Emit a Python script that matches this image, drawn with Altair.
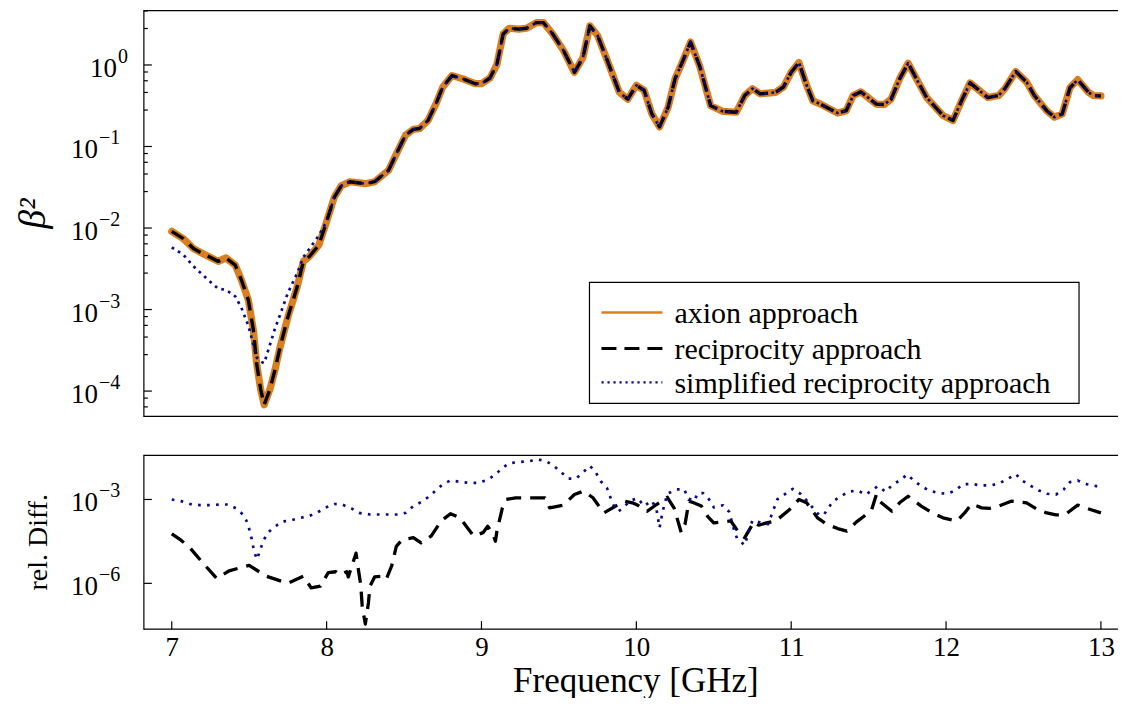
import altair as alt
import pandas as pd

FONT = "Liberation Serif"
ORANGE = "#da7f1f"
NAVY = "#0a0a8c"

# ---------------- top panel data (beta^2 vs frequency in GHz) ----------------
freq = [7.00, 7.075, 7.14, 7.215, 7.30, 7.35, 7.41, 7.45, 7.495, 7.527,
        7.548, 7.574, 7.597, 7.634, 7.666, 7.70, 7.75, 7.81, 7.85, 7.89,
        7.95, 8.00, 8.05, 8.095, 8.15, 8.25, 8.31, 8.365, 8.40, 8.45,
        8.51, 8.56, 8.60, 8.655, 8.71, 8.75, 8.81, 8.88, 8.96, 9.00,
        9.055, 9.10, 9.14, 9.18, 9.24, 9.29, 9.355, 9.40, 9.46, 9.53,
        9.60, 9.655, 9.70, 9.75, 9.81, 9.89, 9.945, 10.00, 10.05, 10.10,
        10.15, 10.205, 10.25, 10.30, 10.35, 10.41, 10.48, 10.56, 10.645, 10.70,
        10.75, 10.80, 10.90, 10.95, 11.00, 11.05, 11.10, 11.14, 11.19, 11.30,
        11.355, 11.40, 11.45, 11.55, 11.60, 11.645, 11.70, 11.755, 11.82, 11.875,
        11.98, 12.045, 12.10, 12.155, 12.20, 12.27, 12.34, 12.38, 12.45, 12.52,
        12.57, 12.65, 12.70, 12.75, 12.80, 12.85, 12.92, 12.95, 13.00]

axion = [9.1e-3, 7.4e-3, 5.6e-3, 4.7e-3, 3.9e-3, 4.3e-3, 3.5e-3, 2.3e-3, 1.3e-3, 5.6e-4,
         2.2e-4, 1.05e-4, 6.8e-5, 1.05e-4, 1.8e-4, 3.5e-4, 8.1e-4, 1.9e-3, 3.9e-3, 4.5e-3,
         6.2e-3, 1.2e-2, 2.4e-2, 3.3e-2, 3.7e-2, 3.5e-2, 3.7e-2, 4.5e-2, 5.1e-2, 8.1e-2,
         0.138, 0.162, 0.166, 0.209, 0.347, 0.537, 0.741, 0.676, 0.589, 0.589,
         0.692, 1.02, 2.40, 2.82, 2.75, 2.82, 3.31, 3.31, 2.40, 1.50,
         0.813, 1.23, 3.02, 2.29, 1.17, 0.462, 0.380, 0.562, 0.490, 0.251,
         0.174, 0.302, 0.676, 1.12, 1.91, 0.955, 0.316, 0.269, 0.263, 0.422,
         0.513, 0.442, 0.462, 0.537, 0.813, 1.07, 0.562, 0.363, 0.331, 0.257,
         0.275, 0.422, 0.468, 0.331, 0.327, 0.380, 0.676, 1.05, 0.617, 0.398,
         0.240, 0.209, 0.363, 0.603, 0.513, 0.398, 0.422, 0.513, 0.832, 0.617,
         0.422, 0.275, 0.229, 0.251, 0.525, 0.661, 0.462, 0.422, 0.417]

# reciprocity curve is indistinguishable from the axion curve at this scale
reciprocity = list(axion)

# simplified reciprocity curve: differs visibly only below 8 GHz
simplified_low = [5.8e-3, 4.7e-3, 3.4e-3, 2.5e-3, 1.8e-3, 1.75e-3, 1.45e-3, 1.05e-3, 6.3e-4, 3.7e-4,
                  2.6e-4, 2.3e-4, 2.2e-4, 3.7e-4, 5.8e-4, 8.7e-4, 1.6e-3, 2.8e-3, 4.4e-3, 5.6e-3,
                  8.1e-3]
simplified = simplified_low + axion[len(simplified_low):]

# ---------------- bottom panel data (relative difference) ----------------
rd_freq_recip = [7.00, 7.06, 7.12, 7.19, 7.29, 7.37, 7.50, 7.61, 7.75, 7.85,
                 7.90, 7.96, 8.01, 8.06, 8.085, 8.13, 8.14, 8.19, 8.20, 8.22,
                 8.23, 8.25, 8.27, 8.28, 8.31, 8.365, 8.385, 8.42, 8.45, 8.49,
                 8.56, 8.61, 8.675, 8.74, 8.80, 8.86, 8.95, 9.01, 9.04, 9.07,
                 9.09, 9.10, 9.135, 9.16, 9.22, 9.32, 9.41, 9.44, 9.53, 9.60,
                 9.66, 9.72, 9.79, 9.89, 9.92, 9.975, 10.01, 10.07, 10.13, 10.20,
                 10.245, 10.29, 10.315, 10.34, 10.37, 10.42, 10.46, 10.50, 10.61, 10.64,
                 10.67, 10.70, 10.76, 10.79, 10.84, 10.90, 10.99, 11.05, 11.10, 11.17,
                 11.23, 11.30, 11.36, 11.42, 11.47, 11.52, 11.55, 11.57, 11.65, 11.70,
                 11.755, 11.84, 11.90, 11.98, 12.07, 12.12, 12.165, 12.23, 12.28, 12.34,
                 12.42, 12.52, 12.59, 12.65, 12.71, 12.77, 12.85, 12.90, 13.00]
rd_recip = [5.9e-5, 3.5e-5, 1.8e-5, 6.3e-6, 1.5e-6, 2.8e-6, 4.4e-6, 1.8e-6, 1.0e-6, 1.8e-6,
            6.9e-7, 7.9e-7, 2.4e-6, 2.6e-6, 2.0e-6, 2.6e-6, 1.7e-6, 1.2e-5, 4.8e-6, 9.1e-7,
            1.5e-7, 3.5e-8, 2.0e-7, 7.9e-7, 1.7e-6, 1.8e-6, 1.4e-6, 4.2e-6, 2.1e-5, 3.7e-5,
            4.3e-5, 2.8e-5, 4.9e-5, 1.7e-4, 3.1e-4, 2.2e-4, 4.9e-5, 6.5e-5, 1.1e-4, 6.5e-5,
            3.2e-5, 7.4e-5, 5.0e-4, 1.0e-3, 1.15e-3, 1.15e-3, 1.15e-3, 5.0e-4, 6.3e-4, 1.5e-3,
            2.0e-3, 1.15e-3, 3.3e-4, 6.9e-4, 8.7e-4, 7.6e-4, 6.2e-4, 3.8e-4, 6.6e-4, 1.2e-3,
            4.8e-4, 6.5e-5, 1.35e-4, 8.7e-4, 7.6e-4, 5.8e-4, 2.5e-4, 1.45e-4, 1.7e-4, 9.8e-5,
            5.6e-5, 4.3e-5, 1.6e-4, 1.2e-4, 1.45e-4, 1.7e-4, 4.4e-4, 1.0e-3, 7.6e-4, 2.2e-4,
            1.3e-4, 9.1e-5, 7.4e-5, 1.55e-4, 2.5e-4, 4.4e-4, 1.5e-3, 8.7e-4, 3.8e-4, 7.6e-4,
            1.3e-3, 5.8e-4, 3.6e-4, 2.2e-4, 1.7e-4, 3.3e-4, 6.9e-4, 5.0e-4, 4.8e-4, 5.8e-4,
            8.7e-4, 7.6e-4, 4.4e-4, 3.3e-4, 2.8e-4, 2.9e-4, 6.3e-4, 5.0e-4, 3.3e-4]

rd_freq_simp = [7.00, 7.06, 7.13, 7.18, 7.25, 7.31, 7.365, 7.415, 7.46, 7.49,
                7.52, 7.53, 7.55, 7.57, 7.59, 7.62, 7.66, 7.71, 7.77, 7.83,
                7.88, 7.935, 7.99, 8.05, 8.10, 8.16, 8.21, 8.28, 8.34, 8.40,
                8.455, 8.51, 8.56, 8.61, 8.655, 8.70, 8.75, 8.80, 8.86, 8.925,
                8.98, 9.04, 9.09, 9.135, 9.18, 9.25, 9.30, 9.365, 9.42, 9.47,
                9.52, 9.56, 9.61, 9.66, 9.70, 9.735, 9.77, 9.81, 9.83, 9.85,
                9.885, 9.915, 9.96, 10.01, 10.05, 10.10, 10.13, 10.15, 10.17, 10.20,
                10.26, 10.31, 10.33, 10.37, 10.40, 10.43, 10.47, 10.50, 10.56, 10.60,
                10.63, 10.65, 10.70, 10.73, 10.75, 10.81, 10.85, 10.87, 10.91, 10.97,
                11.01, 11.06, 11.10, 11.14, 11.18, 11.21, 11.24, 11.27, 11.33, 11.37,
                11.43, 11.48, 11.52, 11.56, 11.61, 11.65, 11.70, 11.75, 11.79, 11.84,
                11.89, 11.95, 12.01, 12.06, 12.11, 12.17, 12.22, 12.29, 12.34, 12.40,
                12.45, 12.49, 12.55, 12.60, 12.65, 12.71, 12.76, 12.80, 12.85, 12.91,
                12.97, 13.00]
rd_simp = [1.0e-3, 8.7e-4, 6.6e-4, 6.3e-4, 6.3e-4, 6.6e-4, 6.6e-4, 4.8e-4, 2.9e-4, 1.45e-4,
           3.2e-5, 1.5e-5, 7.2e-6, 1.5e-5, 3.2e-5, 6.5e-5, 1.0e-4, 1.6e-4, 1.8e-4, 2.2e-4,
           2.5e-4, 3.3e-4, 5.0e-4, 6.9e-4, 6.6e-4, 4.8e-4, 3.3e-4, 2.9e-4, 2.9e-4, 2.9e-4,
           2.9e-4, 3.3e-4, 5.8e-4, 8.1e-4, 1.2e-3, 2.0e-3, 3.5e-3, 4.8e-3, 4.3e-3, 3.9e-3,
           3.9e-3, 5.1e-3, 7.8e-3, 1.35e-2, 2.0e-2, 2.2e-2, 2.3e-2, 2.7e-2, 2.3e-2, 1.55e-2,
           8.9e-3, 5.6e-3, 5.6e-3, 9.8e-3, 1.6e-2, 1.0e-2, 4.5e-3, 2.6e-3, 1.3e-3, 6.6e-4,
           3.8e-4, 5.0e-4, 9.1e-4, 1.1e-3, 5.8e-4, 9.1e-4, 4.4e-4, 9.8e-5, 3.8e-4, 1.6e-3,
           2.3e-3, 2.3e-3, 1.15e-3, 8.7e-4, 1.7e-3, 1.7e-3, 1.0e-3, 5.2e-4, 6.2e-4, 3.6e-4,
           8.5e-5, 4.1e-5, 2.3e-5, 8.5e-5, 1.8e-4, 1.45e-4, 1.3e-4, 2.5e-4, 1.0e-3, 1.7e-3,
           2.4e-3, 1.6e-3, 9.1e-4, 5.0e-4, 2.8e-4, 2.8e-4, 5.0e-4, 8.7e-4, 1.4e-3, 1.9e-3,
           2.1e-3, 1.5e-3, 2.1e-3, 3.0e-3, 1.9e-3, 3.2e-3, 4.8e-3, 7.8e-3, 4.8e-3, 3.0e-3,
           2.1e-3, 1.7e-3, 1.6e-3, 2.1e-3, 3.5e-3, 3.6e-3, 3.2e-3, 3.2e-3, 3.7e-3, 5.5e-3,
           8.1e-3, 4.8e-3, 3.0e-3, 2.1e-3, 1.6e-3, 1.5e-3, 2.3e-3, 4.2e-3, 4.8e-3, 3.5e-3,
           3.0e-3, 3.0e-3]

legend_labels = ["axion approach", "reciprocity approach", "simplified reciprocity approach"]

# ticks and tick labels
top_major = [1e-4, 1e-3, 1e-2, 1e-1, 1e0]
top_major_exp = ["\u22124", "\u22123", "\u22122", "\u22121", "0"]
top_minor = [6.4e-5, 8.2e-5,
             2.8e-4, 4.6e-4, 6.4e-4, 8.2e-4,
             2.8e-3, 4.6e-3, 6.4e-3, 8.2e-3,
             2.8e-2, 4.6e-2, 6.4e-2, 8.2e-2,
             2.8e-1, 4.6e-1, 6.4e-1, 8.2e-1,
             2.8, 4.6]
bot_major = [1e-3, 1e-6]
bot_major_exp = ["\u22123", "\u22126"]
x_ticks = [7, 8, 9, 10, 11, 12, 13]

# ---------------- layout ----------------
W = 975            # plot area; the frame has no right edge (it is cut off, as in the original)
H_TOP = 406
H_BOT = 174
PX_PER_GHZ = 155.0
X0 = 6.82

xs = alt.Scale(domain=[X0, X0 + W / PX_PER_GHZ], nice=False, zero=False)
ys_top = alt.Scale(type="log", domain=[4.9e-5, 4.63], nice=False)
ys_bot = alt.Scale(type="log", domain=[2.3e-8, 3.8e-2], nice=False)

one = pd.DataFrame({"a": [0]})

df_axion = pd.DataFrame({"f": freq, "v": axion})
df_recip = pd.DataFrame({"f": freq, "v": reciprocity})
df_simp = pd.DataFrame({"f": freq, "v": simplified})
df_rd_recip = pd.DataFrame({"f": rd_freq_recip, "v": rd_recip})
df_rd_simp = pd.DataFrame({"f": rd_freq_simp, "v": rd_simp})


def line(df, ys, xaxis, color, width, dash=None, cap="butt"):
    kw = dict(color=color, strokeWidth=width, clip=True, strokeJoin="round", strokeCap=cap)
    if dash:
        kw["strokeDash"] = dash
    return alt.Chart(df).mark_line(**kw).encode(
        x=alt.X("f:Q", scale=xs, axis=xaxis),
        y=alt.Y("v:Q", scale=ys, axis=None),
    )


def yticks(vals, ys, length):
    return alt.Chart(pd.DataFrame({"t": vals})).mark_rule(color="black", strokeWidth=1.2).encode(
        y=alt.Y("t:Q", scale=ys, axis=None), x=alt.value(0), x2=alt.value(length)
    )


def ylabels(vals, exps, ys):
    df = pd.DataFrame({"t": vals, "e": exps})
    layers = []
    for cond, x0 in (("length(datum.e) > 1", -46), ("length(datum.e) <= 1", -27)):
        base = alt.Chart(df).transform_filter(cond).mark_text(
            align="right", baseline="middle", fontSize=27, dy=4, color="black"
        ).encode(y=alt.Y("t:Q", scale=ys, axis=None), x=alt.value(x0), text=alt.value("10"))
        sup = alt.Chart(df).transform_filter(cond).mark_text(
            align="left", baseline="middle", fontSize=20, dy=-8, color="black"
        ).encode(y=alt.Y("t:Q", scale=ys, axis=None), x=alt.value(x0 + 1), text="e:N")
        layers += [base, sup]
    return layers


def frame(h):
    st = dict(color="black", strokeWidth=1.2)
    return [
        alt.Chart(one).mark_rule(**st).encode(x=alt.value(0), x2=alt.value(W), y=alt.value(0)),
        alt.Chart(one).mark_rule(**st).encode(x=alt.value(0), x2=alt.value(W), y=alt.value(h)),
        alt.Chart(one).mark_rule(strokeCap="square", **st).encode(
            x=alt.value(0), y=alt.value(0), y2=alt.value(h)
        ),
    ]


def anchor():
    return alt.Chart(one).mark_rule(strokeWidth=1, strokeOpacity=0, opacity=0).encode(
        x=alt.value(-135.5), y=alt.value(100), y2=alt.value(110)
    )


def vtitle(text, x, y, size, style="normal"):
    return alt.Chart(one).mark_text(
        angle=270, align="center", baseline="middle", fontSize=size, fontStyle=style, color="black"
    ).encode(x=alt.value(x), y=alt.value(y), text=alt.value(text))


# legend (drawn inside the top panel)
legend_box = alt.Chart(one).mark_rect(fill="white", stroke="black", strokeWidth=1.2).encode(
    x=alt.value(446), x2=alt.value(936), y=alt.value(272), y2=alt.value(393)
)
leg_rows = [302, 338, 372]
leg_styles = [
    dict(color=ORANGE, strokeWidth=2.6),
    dict(color="black", strokeWidth=3, strokeDash=[15, 8]),
    dict(color=NAVY, strokeWidth=2.2, strokeDash=[2.2, 3.8]),
]
legend_layers = [legend_box]
for ry, st, lab in zip(leg_rows, leg_styles, legend_labels):
    legend_layers.append(
        alt.Chart(one).mark_rule(**st).encode(
            x=alt.value(458), x2=alt.value(519), y=alt.value(ry)
        )
    )
    legend_layers.append(
        alt.Chart(one).mark_text(align="left", baseline="middle", fontSize=30, dy=2, color="black").encode(
            x=alt.value(531), y=alt.value(ry), text=alt.value(lab)
        )
    )

top = alt.layer(
    line(df_axion, ys_top, None, ORANGE, 7.2, cap="round"),
    line(df_recip, ys_top, None, "black", 3.4, dash=[14, 8]),
    line(df_simp, ys_top, None, NAVY, 2.7, dash=[2.7, 4.6]),
    *frame(H_TOP),
    yticks(top_major, ys_top, 8),
    yticks(top_minor, ys_top, 4),
    *ylabels(top_major, top_major_exp, ys_top),
    vtitle("\u03b2\u00b2", -110, 203, 38, "italic"),
    anchor(),
    *legend_layers,
).properties(width=W, height=H_TOP)

xaxis_bot = alt.Axis(
    values=x_ticks, format="d", ticks=False, tickSize=0, domain=False, grid=False,
    labelFontSize=27, labelPadding=5, labelColor="black", labelFont=FONT,
    title="Frequency [GHz]", titleFontSize=35, titleFontWeight="normal", titleColor="black",
    titleFont=FONT, titleBaseline="alphabetic", titleAlign="center",
    titleX=(1101.9 + 171.9) / 2 - 144 - 1, titleY=62,
)

xt_bot = alt.Chart(pd.DataFrame({"t": x_ticks})).mark_rule(color="black", strokeWidth=1.2).encode(
    x=alt.X("t:Q", scale=xs, axis=xaxis_bot), y=alt.value(H_BOT), y2=alt.value(H_BOT - 8)
)

bottom = alt.layer(
    line(df_rd_recip, ys_bot, xaxis_bot, "black", 3.3, dash=[15, 9]),
    line(df_rd_simp, ys_bot, xaxis_bot, NAVY, 2.7, dash=[2.7, 6.3]),
    *frame(H_BOT),
    xt_bot,
    yticks(bot_major, ys_bot, 8),
    *ylabels(bot_major, bot_major_exp, ys_bot),
    vtitle("rel. Diff.", -105, 87, 28),
    anchor(),
).properties(width=W, height=H_BOT)

chart = alt.vconcat(top, bottom, spacing=37).properties(
    padding={"left": 0, "top": 1.4, "right": 0, "bottom": 0}
).configure(font=FONT).configure_view(stroke="transparent", strokeWidth=0)

chart.save("out.html", embed_options={"renderer": "svg", "actions": False})
